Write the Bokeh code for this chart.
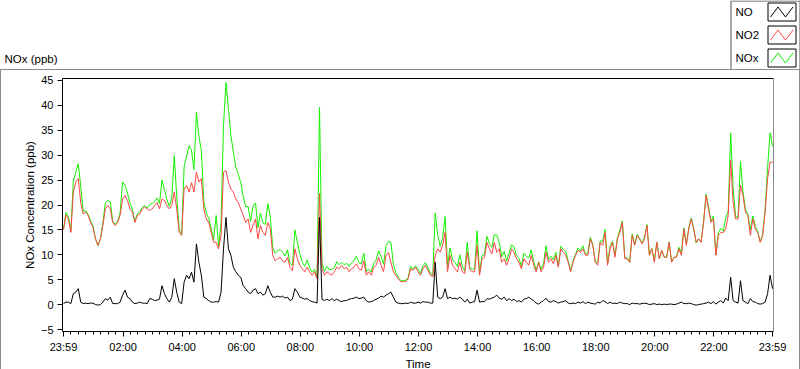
from bokeh.plotting import figure
from bokeh.layouts import column
from bokeh.models import Range1d, FixedTicker, LinearAxis
from bokeh.core.properties import value
from bokeh.embed import file_html
from bokeh.resources import INLINE

# ---------------- data (5-minute samples starting 23:59) ----------------
STEP_MIN = 5
NO2 = [
    15.0, 18.0, 17.2, 14.5, 22.6, 24.6, 25.3, 20.5, 18.2, 18.6, 17.9, 16.5,
    15.5, 13.2, 11.9, 13.2, 15.9, 19.2, 19.9, 19.2, 16.5, 15.9, 16.5, 17.9,
    21.2, 21.9, 20.9, 19.2, 18.6, 16.5, 17.9, 18.2, 19.2, 19.6, 19.2, 18.9,
    19.2, 19.9, 20.5, 19.2, 21.2, 20.9, 19.9, 19.2, 19.9, 22.6, 19.2, 14.5,
    13.9, 23.2, 23.9, 22.6, 24.5, 22.6, 26.6, 24.6, 25.3, 19.2, 17.2, 16.5,
    14.5, 12.5, 12.5, 11.2, 13.9, 26.6, 26.9, 24.6, 23.2, 22.6, 21.2, 20.5,
    19.2, 17.9, 16.5, 17.2, 14.5, 15.9, 17.2, 13.2, 15.9, 14.5, 13.9, 16.5,
    15.2, 9.9, 8.8, 9.2, 9.5, 8.8, 8.5, 9.5, 7.5, 6.8, 11.2, 9.2,
    7.9, 7.2, 6.6, 7.5, 6.6, 5.9, 6.6, 5.2, 22.3, 7.2, 5.9, 6.6,
    6.2, 5.9, 6.6, 7.5, 7.2, 7.9, 7.2, 7.5, 6.6, 7.2, 7.5, 8.2,
    7.2, 6.9, 8.8, 5.9, 6.6, 5.9, 7.5, 7.9, 9.5, 7.9, 6.6, 9.9,
    10.5, 8.5, 6.6, 5.9, 5.2, 4.6, 4.6, 4.6, 5.2, 7.2, 6.9, 7.5,
    6.6, 5.9, 7.2, 7.9, 6.9, 5.9, 5.6, 9.9, 11.2, 10.5, 11.9, 14.5,
    6.6, 9.9, 7.9, 7.2, 6.6, 8.5, 6.6, 6.2, 10.5, 7.2, 6.6, 6.6,
    11.9, 5.9, 9.2, 9.5, 12.5, 11.2, 10.2, 12.5, 10.5, 11.2, 8.5, 9.2,
    7.9, 9.2, 11.2, 10.5, 9.2, 8.5, 7.2, 9.2, 8.5, 7.9, 9.9, 7.9,
    6.6, 8.5, 6.6, 7.5, 10.5, 8.5, 9.2, 8.2, 9.9, 7.5, 11.2, 10.5,
    9.9, 8.5, 6.6, 8.5, 9.9, 10.9, 10.5, 11.2, 9.9, 9.9, 13.2, 11.9,
    8.5, 7.9, 12.5, 11.9, 14.5, 7.9, 11.2, 12.5, 9.5, 13.2, 14.5, 16.5,
    9.2, 9.2, 8.5, 13.9, 11.9, 13.9, 13.2, 12.2, 13.2, 15.9, 9.9, 11.2,
    8.5, 12.5, 9.2, 10.9, 9.5, 9.5, 12.5, 8.5, 9.5, 9.5, 11.2, 9.9,
    15.2, 11.9, 15.2, 17.2, 15.2, 12.5, 13.2, 12.5, 16.5, 21.9, 19.2, 16.5,
    17.2, 9.9, 13.9, 14.5, 14.5, 15.2, 17.9, 29.0, 20.5, 17.2, 17.2, 24.0,
    21.9, 18.6, 17.9, 13.9, 17.2, 15.2, 14.5, 12.5, 13.9, 18.6, 25.3, 28.6, 28.6,
]
NO = [
    0.2, 0.5, 0.5, 0.2, 2.2, 2.5, 3.2, 0.5, 0.2, 0.3, 0.2, 0.3,
    0.3, 0.0, -0.1, 0.0, 0.5, 1.2, 0.9, 1.5, 0.2, 0.2, 0.2, 0.5,
    1.9, 2.9, 1.5, 1.2, 0.5, 0.2, 0.3, 0.5, 0.3, 0.3, 0.2, 1.2,
    1.1, 0.8, 0.9, 1.1, 3.8, 2.2, 1.2, 0.5, 1.5, 5.2, 2.5, 0.5,
    0.2, 4.5, 5.9, 5.2, 6.5, 4.5, 12.2, 8.5, 5.9, 1.5, 1.2, 0.8,
    0.5, 0.5, 0.6, 0.5, 2.5, 11.2, 17.5, 11.2, 9.9, 7.5, 6.6, 5.9,
    5.5, 3.8, 3.2, 2.5, 2.2, 2.9, 3.2, 2.2, 2.5, 1.9, 2.2, 3.8,
    2.5, 1.5, 1.5, 1.7, 1.5, 1.7, 1.3, 1.5, 0.8, 1.1, 3.2, 2.5,
    1.5, 1.3, 1.1, 1.2, 0.8, 0.6, 0.5, 0.3, 17.5, 1.1, 0.8, 1.1,
    0.8, 1.2, 0.8, 1.1, 0.8, 0.6, 0.8, 0.8, 1.1, 1.2, 1.3, 1.5,
    1.2, 1.3, 1.5, 0.8, 0.5, 0.6, 0.8, 1.1, 1.3, 1.7, 1.5, 1.9,
    2.2, 2.5, 1.5, 0.5, 0.3, 0.2, 0.2, 0.3, 0.2, 0.5, 0.3, 0.3,
    0.5, 0.3, 0.6, 0.5, 0.5, 0.3, 0.3, 8.5, 1.5, 1.2, 1.5, 3.2,
    1.2, 1.5, 1.2, 1.3, 1.1, 1.5, 1.1, 0.5, 1.1, 0.3, 0.5, 0.6,
    2.9, 0.5, 0.6, 0.6, 1.2, 1.1, 1.3, 1.5, 1.9, 1.3, 1.1, 1.5,
    0.8, 1.2, 0.8, 1.1, 0.6, 0.8, 0.5, 1.1, 1.2, 1.5, 1.1, 0.8,
    0.3, 0.1, 0.5, 0.8, 1.3, 0.6, 0.5, 0.8, 0.6, 0.3, 0.5, 0.6,
    0.8, 0.3, 0.2, 0.3, 0.2, 0.5, 0.3, 0.6, 0.2, 0.5, 0.3, 0.2,
    0.1, 0.5, 0.3, 0.8, 0.6, 0.2, 0.5, 0.2, 0.3, 0.2, 0.5, 0.3,
    0.2, 0.2, 0.0, 0.3, 0.2, 0.2, 0.1, 0.2, 0.3, 0.2, 0.0, 0.1,
    0.2, 0.0, 0.1, 0.0, 0.1, 0.0, 0.1, 0.1, 0.0, 0.1, 0.3, 0.5,
    0.2, 0.2, 0.3, 0.2, 0.0, -0.1, 0.0, 0.1, 0.2, 0.3, 0.5, 0.2,
    0.6, 0.1, 0.5, 0.8, 0.3, 1.3, 0.8, 5.5, 0.8, 0.5, 0.3, 4.8,
    0.8, 0.5, 0.2, 1.2, 0.6, 0.5, 0.2, 0.1, 0.2, 0.5, 2.2, 5.9, 3.2,
]
NOX = [
    15.2, 18.5, 17.7, 14.7, 24.8, 26.6, 28.3, 23.8, 18.7, 18.9, 18.1, 16.8,
    15.8, 13.2, 11.8, 13.2, 16.4, 20.5, 20.9, 20.7, 16.7, 16.1, 16.7, 18.4,
    24.6, 23.9, 22.4, 20.4, 19.1, 16.7, 18.2, 18.7, 19.5, 19.9, 19.4, 20.1,
    20.3, 20.7, 21.4, 20.3, 25.0, 23.1, 21.1, 19.7, 21.4, 29.9, 21.7, 15.0,
    14.1, 27.7, 29.8, 31.9, 31.0, 27.1, 38.6, 33.8, 31.0, 20.7, 18.4, 17.3,
    15.3, 13.0, 17.9, 11.7, 16.4, 36.0, 44.6, 39.3, 34.0, 30.6, 27.6, 26.2,
    24.5, 21.7, 19.7, 19.7, 16.7, 19.8, 20.4, 15.4, 18.4, 16.4, 16.1, 20.3,
    17.7, 11.4, 10.3, 10.9, 11.0, 10.5, 9.8, 11.0, 8.3, 7.9, 15.0, 12.5,
    10.2, 8.5, 7.7, 9.0, 7.4, 6.5, 7.1, 5.5, 39.6, 8.3, 6.7, 7.7,
    7.0, 7.1, 7.4, 8.6, 8.0, 8.5, 8.0, 8.3, 7.7, 8.4, 8.8, 9.7,
    8.4, 8.2, 10.3, 6.7, 7.1, 6.5, 8.3, 9.0, 10.8, 9.6, 8.1, 11.8,
    12.7, 12.5, 8.1, 6.4, 5.5, 4.8, 4.8, 4.9, 5.4, 7.7, 7.2, 7.8,
    7.1, 6.2, 7.8, 8.4, 7.4, 6.2, 5.9, 18.4, 14.0, 11.7, 13.4, 17.7,
    7.8, 11.4, 9.1, 8.5, 7.7, 10.0, 7.7, 6.7, 12.5, 7.5, 7.1, 7.2,
    14.8, 6.4, 9.8, 10.1, 13.7, 12.3, 11.5, 14.0, 14.0, 12.5, 9.6, 10.7,
    8.7, 10.4, 12.0, 11.6, 9.8, 9.3, 7.7, 10.3, 9.7, 9.4, 11.0, 8.7,
    6.9, 8.6, 7.1, 8.3, 11.8, 9.1, 9.7, 9.0, 10.5, 7.8, 11.7, 11.1,
    10.7, 8.8, 6.8, 8.8, 10.1, 11.4, 10.8, 11.8, 10.1, 10.4, 13.5, 12.1,
    8.6, 8.4, 12.8, 12.7, 15.1, 8.1, 11.7, 12.7, 9.8, 13.4, 15.0, 16.8,
    9.4, 9.4, 8.5, 14.2, 12.1, 14.1, 13.3, 12.4, 13.5, 16.1, 9.9, 11.3,
    8.7, 12.5, 9.3, 10.9, 9.6, 9.5, 12.6, 8.6, 9.5, 9.6, 11.5, 10.4,
    15.4, 12.1, 15.5, 17.4, 15.2, 12.4, 13.2, 12.6, 16.7, 22.2, 19.7, 16.7,
    17.8, 10.0, 14.4, 15.3, 14.8, 17.5, 18.7, 34.5, 23.5, 17.7, 17.5, 28.8,
    22.7, 19.1, 18.1, 15.1, 17.8, 15.7, 14.7, 12.6, 14.1, 19.1, 27.5, 34.5, 31.8,
]
MINUTES = [i * STEP_MIN for i in range(len(NO2))]

TICK_MINUTES = [0, 121, 241, 361, 481, 601, 721, 841, 961, 1081, 1201, 1321, 1440]
TICK_LABELS = ["23:59", "02:00", "04:00", "06:00", "08:00", "10:00", "12:00",
               "14:00", "16:00", "18:00", "20:00", "22:00", "23:59"]
Y_TICKS = [-5, 0, 5, 10, 15, 20, 25, 30, 35, 40, 45]
SERIES_NAMES = ["NO", "NO2", "NOx"]
COLORS = {"NO": "#000000", "NO2": "#ff4646", "NOx": "#14f000"}
CHART_TITLE = "NOx (ppb)"

FONT = "Liberation Sans"
BORDER_GREY = "#8a8a8a"


def no_align(fig):
    if "frame_align" in fig.properties():
        fig.frame_align = False


# ---------------- header strip: title + legend (pixel coordinates) ----------------
hdr = figure(width=800, height=69, output_backend="svg", toolbar_location=None,
             title=None, min_border=0, x_range=Range1d(0, 800), y_range=Range1d(69, 0))
hdr.axis.visible = False
hdr.grid.visible = False
hdr.outline_line_color = None
hdr.background_fill_color = "white"
hdr.border_fill_color = "white"
no_align(hdr)

hdr.text(x=[4], y=[58], text=[CHART_TITLE], text_font=value(FONT),
         text_font_size=value("11.5px"), text_color="black",
         text_baseline="middle", text_align="left")

# legend frame (bottom edge supplied by the panel border below)
hdr.quad(left=[730.5], right=[799.5], top=[0.5], bottom=[80],
         fill_color="white", line_color="#505050", line_width=1)
item_y = [11.5 + 23 * i for i in range(len(SERIES_NAMES))]
hdr.text(x=[735] * len(SERIES_NAMES), y=item_y, text=SERIES_NAMES,
         text_font=value(FONT), text_font_size=value("11.5px"), text_color="black",
         text_baseline="middle", text_align="left")
hdr.quad(left=[767.5] * 3, right=[795.5] * 3,
         top=[c - 9 for c in item_y], bottom=[c + 9 for c in item_y],
         fill_color="white", line_color="black", line_width=1)
zig_x = [770, 777.5, 785, 792.5]
hdr.multi_line(xs=[zig_x for _ in item_y],
               ys=[[c + 5, c - 5, c + 5, c - 5] for c in item_y],
               line_color=[COLORS[n] for n in SERIES_NAMES], line_width=1)

# ---------------- main chart ----------------
p = figure(output_backend="svg", toolbar_location=None, title=None,
           frame_width=711, frame_height=253,
           min_border_left=62, min_border_right=27,
           min_border_top=9, min_border_bottom=38,
           x_range=Range1d(-2, 1442), y_range=Range1d(-5.4, 45.4))
p.xgrid.visible = False
p.ygrid.visible = False
p.outline_line_color = None
p.background_fill_color = "white"
p.border_fill_color = None
p.styles = {"box-shadow": f"inset 0 0 0 1px {BORDER_GREY}",
            "outline": f"1px solid {BORDER_GREY}", "outline-offset": "-1px",
            "background-color": "white"}
no_align(p)

minor = []
for a, b in zip(TICK_MINUTES[:-1], TICK_MINUTES[1:]):
    for j in range(8):
        minor.append(a + (b - a) * j / 8)
minor.append(TICK_MINUTES[-1])

xa = p.xaxis[0]
xa.ticker = FixedTicker(ticks=TICK_MINUTES, minor_ticks=minor)
xa.major_label_overrides = {t: l for t, l in zip(TICK_MINUTES, TICK_LABELS)}
xa.axis_label = "Time"
ya = p.yaxis[0]
ya.ticker = FixedTicker(ticks=Y_TICKS, minor_ticks=[])
ya.axis_label = "NOx Concentration (ppb)"
for ax in (xa, ya):
    ax.axis_line_color = "black"
    ax.major_tick_line_color = "black"
    ax.minor_tick_line_color = "black"
    ax.major_tick_in = 0
    ax.major_tick_out = 5
    ax.minor_tick_in = 0
    ax.minor_tick_out = 3
    ax.major_label_text_font = FONT
    ax.major_label_text_font_size = "11px"
    ax.major_label_text_color = "black"
    ax.major_label_standoff = 4
    ax.axis_label_text_font = FONT
    ax.axis_label_text_font_style = "normal"
    ax.axis_label_text_color = "black"
    ax.axis_label_standoff = 2
    ax.axis_label_text_font_size = "11.5px"

for side, col in (("above", "black"), ("right", "#8c8c8c")):
    ax = LinearAxis(ticker=FixedTicker(ticks=[]), axis_line_color=col,
                    major_tick_line_color=None, minor_tick_line_color=None,
                    major_tick_in=0, major_tick_out=0, minor_tick_in=0, minor_tick_out=0,
                    major_label_standoff=0, major_label_text_font_size="0px")
    p.add_layout(ax, side)

p.line(MINUTES, NOX, line_color=COLORS["NOx"], line_width=1)
p.line(MINUTES, NO2, line_color=COLORS["NO2"], line_width=1)
p.line(MINUTES, NO, line_color=COLORS["NO"], line_width=1)

layout = column(hdr, p, spacing=0)
open("out.html", "w").write(file_html(layout, INLINE))
